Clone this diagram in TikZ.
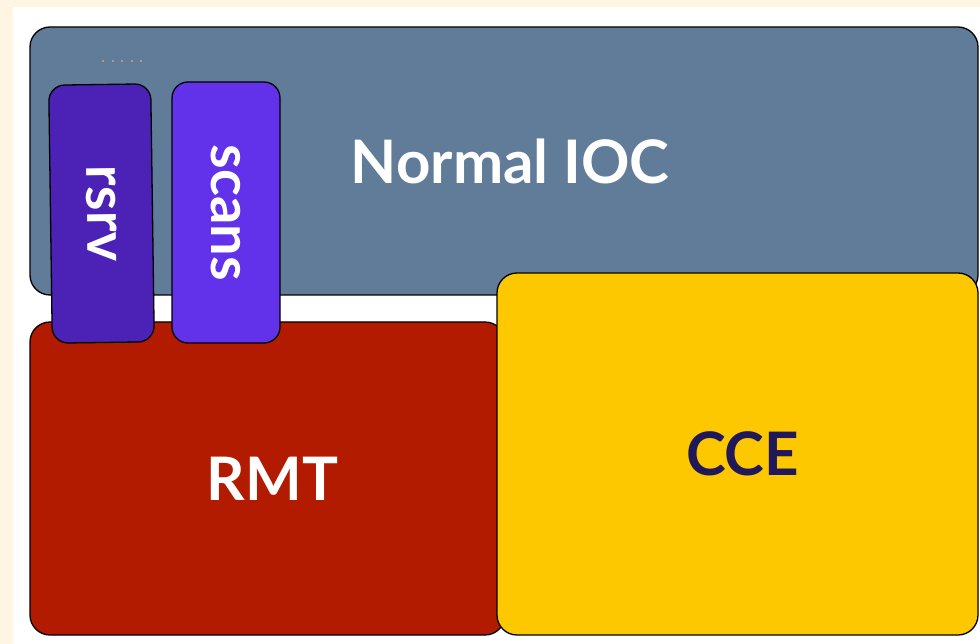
\documentclass[tikz,border=0pt]{standalone}
\usepackage{fontspec}
\setmainfont{Lato}
\definecolor{cream}{HTML}{FEF5E2}
\definecolor{iocblue}{HTML}{607C98}
\definecolor{rmtred}{HTML}{B31B00}
\definecolor{cceyellow}{HTML}{FDC800}
\definecolor{rsrvpurple}{HTML}{4B22B5}
\definecolor{scanspurple}{HTML}{6132EA}
\definecolor{ccetext}{HTML}{201858}
\definecolor{dottan}{HTML}{C8A878}
\begin{document}
\begin{tikzpicture}[x=1pt,y=-1pt,
  bigbox/.style={draw=black, line width=1.3pt, rounded corners=20pt, inner sep=0pt,
    font=\fontsize{60}{70}\selectfont\bfseries},
  tabbox/.style={draw=black, line width=1.3pt, rounded corners=16pt, inner sep=0pt,
    text=white, font=\fontsize{56}{66}\selectfont\bfseries},
  tandot/.style={fill=dottan, circle, inner sep=0pt, minimum size=2.2pt}]
\useasboundingbox (0,0) rectangle (980,644);
\fill[cream] (0,0) rectangle (980,644);
\fill[white] (13,7) rectangle (980,644);
\clip (0,0) rectangle (980,644);
% Normal IOC
\node[bigbox, fill=iocblue, text=white, minimum width=948pt, minimum height=268pt]
  (ioc) at (504,161) {\hspace*{12pt}Normal IOC};
% RMT
\node[bigbox, fill=rmtred, text=white, minimum width=475pt, minimum height=313pt]
  (rmt) at (267.5,478.5) {\hspace*{10pt}RMT};
% CCE
\node[bigbox, fill=cceyellow, text=ccetext, minimum width=481pt, minimum height=362pt]
  (cce) at (737.5,454) {\hspace*{10pt}CCE};
% rsrv (slightly tilted)
\node[tabbox, fill=rsrvpurple, rotate=-89.2, minimum width=258pt, minimum height=102pt]
  (rsrv) at (101.5,213.5) {rsrv};
% scans
\node[tabbox, fill=scanspurple, rotate=-90, minimum width=261pt, minimum height=108pt]
  (scans) at (226,212.5) {scans};
% small dots
\foreach \i/\xx in {1/103,2/113,3/122,4/132,5/141}
  \node[tandot] (dot\i) at (\xx,61) {};
\end{tikzpicture}
\end{document}
